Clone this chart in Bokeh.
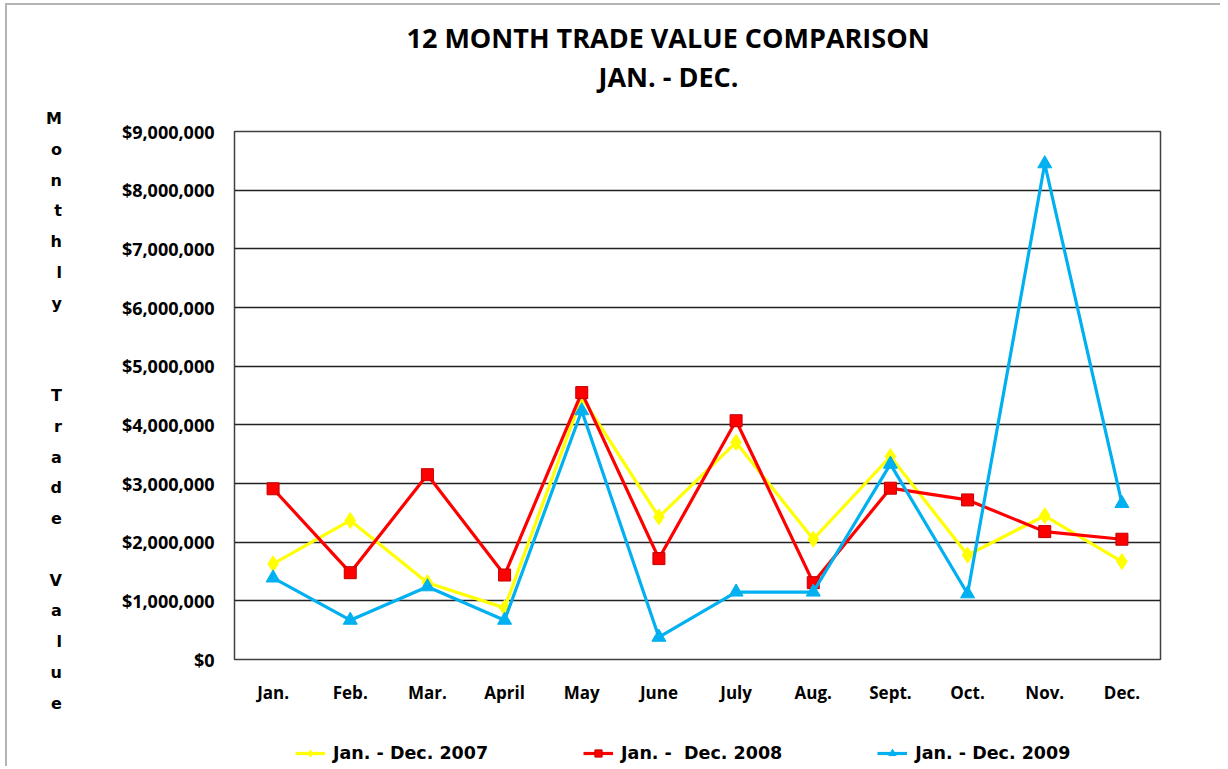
from bokeh.plotting import figure
from bokeh.layouts import column
from bokeh.models import (Range1d, FactorRange, SingleIntervalTicker, NumeralTickFormatter,
                          Legend, LegendItem, Title)
from bokeh.embed import file_html
from bokeh.resources import INLINE

months = ["Jan.", "Feb.", "Mar.", "April", "May", "June", "July", "Aug.", "Sept.", "Oct.", "Nov.", "Dec."]
val_2007 = [1630000, 2370000, 1310000, 880000, 4470000, 2430000, 3700000, 2050000, 3460000, 1780000, 2450000, 1670000]
val_2008 = [2910000, 1480000, 3150000, 1440000, 4550000, 1720000, 4070000, 1310000, 2920000, 2720000, 2180000, 2050000]
val_2009 = [1390000, 670000, 1240000, 670000, 4240000, 380000, 1150000, 1150000, 3330000, 1120000, 8450000, 2660000]
series_names = ["Jan. - Dec. 2007", "Jan. -  Dec. 2008", "Jan. - Dec. 2009"]
title_lines = ["12 MONTH TRADE VALUE COMPARISON", "JAN. - DEC."]
ylabel_words = ["Monthly", "Trade", "Value"]

OX, OY = 7, 5          # page offset produced by the css margin + border
FW, FH = 926, 528
BL = 234 - OX
BT = 131 - OY
BR = 60
BB = 55
LEG_H = 52

p = figure(frame_width=FW, frame_height=FH, output_backend="svg", toolbar_location=None,
           x_range=FactorRange(factors=months), y_range=Range1d(0, 9000000),
           min_border_left=BL, min_border_right=BR, min_border_top=BT, min_border_bottom=BB)
p.background_fill_color = "white"
p.border_fill_color = "white"
p.outline_line_color = "#404040"
p.outline_line_width = 1.5

p.yaxis.ticker = SingleIntervalTicker(interval=1000000)
p.yaxis.formatter = NumeralTickFormatter(format="$0,0")
for ax in (p.xaxis[0], p.yaxis[0]):
    ax.axis_line_color = None
    ax.major_tick_line_color = None
    ax.minor_tick_line_color = None
    ax.major_label_text_font = "Open Sans"
    ax.major_label_text_font_style = "bold"
    ax.major_label_text_color = "black"
p.yaxis.major_label_text_font_size = "18px"
p.yaxis.major_label_standoff = 14
p.xaxis.major_label_text_font_size = "17px"
p.xaxis.major_label_standoff = 15
p.xgrid.grid_line_color = None
p.ygrid.grid_line_color = "#222222"
p.ygrid.grid_line_width = 1.3

# stacked vertical axis title
p.yaxis.axis_label = "\n".join([""] + list(ylabel_words[0]) + ["", ""] + list(ylabel_words[1]) + [""] + list(ylabel_words[2]))
p.yaxis.axis_label_orientation = "horizontal"
p.yaxis.axis_label_text_font = "DejaVu Sans"
p.yaxis.axis_label_text_font_style = "bold"
p.yaxis.axis_label_text_font_size = "16px"
p.yaxis.axis_label_text_line_height = 1.62
p.yaxis.axis_label_text_color = "black"
p.yaxis.axis_label_standoff = 57

styles = [("#FFFF00", "diamond", 16, val_2007, "#FFFF00"),
          ("#FF0000", "square", 12, val_2008, "#C00000"),
          ("#00B0F0", "triangle", 14, val_2009, "#00B0F0")]
for (color, marker, size, vals, edge) in styles:
    p.line(months, vals, line_color=color, line_width=3.2)
    p.scatter(months, vals, marker=marker, size=size, fill_color=color, line_color=edge, line_width=1)

# spacer between frame and titles, then the two title lines
p.add_layout(Title(text=" ", text_font_size="1px", standoff=34), "above")
p.add_layout(Title(text=title_lines[1], align="left", offset=598 - 234, standoff=0,
                   text_font="Open Sans", text_font_style="bold", text_font_size="27px",
                   text_color="black"), "above")
p.add_layout(Title(text=title_lines[0], align="left", offset=406 - 234, standoff=0,
                   text_font="Open Sans", text_font_style="bold", text_font_size="27px",
                   text_color="black"), "above")

# legend strip under the chart (its own series renderers sit outside its visible y range)
p2 = figure(width=BL + FW + BR, height=LEG_H, output_backend="svg", toolbar_location=None,
            x_range=p.x_range, y_range=Range1d(-2, -1), x_axis_location=None, y_axis_location=None,
            min_border=0)
p2.outline_line_color = None
p2.background_fill_color = "white"
p2.border_fill_color = "white"
p2.grid.visible = False
items = []
for (color, marker, size, vals, edge), name in zip(styles, series_names):
    ln = p2.line(months, vals, line_color=color, line_width=3.2)
    sc = p2.scatter(months, vals, marker=marker, size=size, fill_color=color, line_color=edge, line_width=1)
    items.append(LegendItem(label=name, renderers=[ln, sc]))
leg = Legend(items=items, orientation="horizontal", location=(295 - 234, 3), spacing=95,
             glyph_width=30, glyph_height=18, label_height=18, label_standoff=8,
             padding=0, margin=0, border_line_color=None, background_fill_alpha=0,
             label_text_font="DejaVu Sans", label_text_font_style="bold",
             label_text_font_size="17.5px", label_text_color="black")
p2.add_layout(leg, "center")

layout = column(p, p2, spacing=0)
layout.styles = {"margin-left": "5px", "margin-top": "3px",
                 "border-left": "2px solid #b4b4b4", "border-top": "2px solid #b4b4b4"}

open("out.html", "w").write(file_html(layout, INLINE))
